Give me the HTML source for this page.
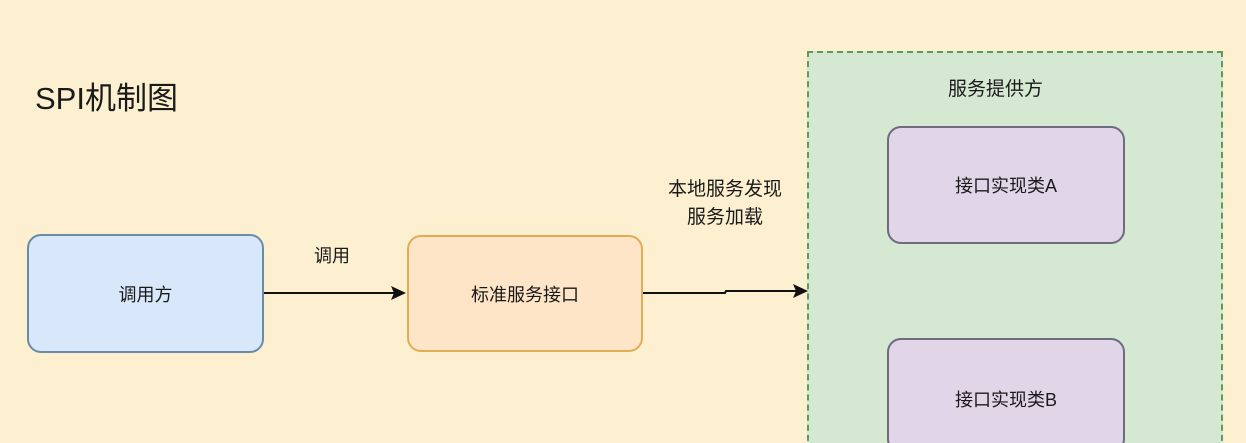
<!DOCTYPE html>
<html><head><meta charset="utf-8"><style>
html,body{margin:0;padding:0;width:1246px;height:443px;overflow:hidden;background:#fdf0d0;}
body{position:relative;font-family:"Liberation Sans","Noto Sans CJK SC",sans-serif;color:#1a1a1a;}
.t{position:absolute;white-space:nowrap;}
.box{position:absolute;box-sizing:border-box;border-radius:14px;display:flex;align-items:center;justify-content:center;font-size:18px;}
</style></head><body>
<div class="t" style="left:35px;top:73px;font-size:31px;">SPI机制图</div>
<div class="box" style="left:27px;top:234px;width:237px;height:119px;background:#d9e7fb;border:2px solid #6b8aa8;">调用方</div>
<div class="box" style="left:407px;top:235px;width:236px;height:117px;background:#ffe5c8;border:2px solid #e0ad55;">标准服务接口</div>
<div style="position:absolute;left:807px;top:51px;width:416px;height:400px;box-sizing:border-box;background:#d5e8d2;border:2px dashed #5f9a5a;"></div>
<div class="t" style="left:948px;top:74px;font-size:19px;">服务提供方</div>
<div class="box" style="left:887px;top:126px;width:238px;height:118px;background:#e1d5e8;border:2px solid #6e6a80;">接口实现类A</div>
<div class="box" style="left:887px;top:338px;width:238px;height:115px;background:#e1d5e8;border:2px solid #6e6a80;align-items:flex-start;padding-top:46px;">接口实现类B</div>
<div class="t" style="left:314px;top:242px;font-size:18px;">调用</div>
<div class="t" style="left:643px;top:176px;font-size:19px;line-height:28px;text-align:center;width:164px;">本地服务发现<br>服务加载</div>
<svg width="1246" height="443" style="position:absolute;left:0;top:0">
<line x1="264" y1="293" x2="394" y2="293" stroke="#111" stroke-width="2"/>
<polygon points="406,293 391,286 394,293 391,300" fill="#111"/>
<polyline points="643,293 725,293 726,291 796,291" fill="none" stroke="#111" stroke-width="2"/>
<polygon points="808,291 793,284 796,291 793,298" fill="#111"/>
</svg>
</body></html>
